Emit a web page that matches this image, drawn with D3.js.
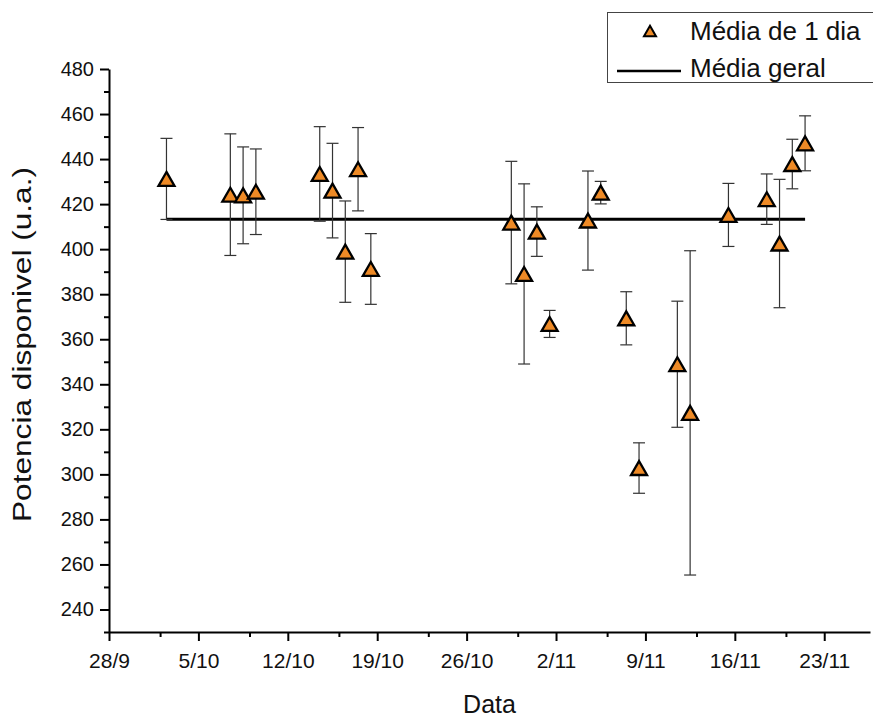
<!DOCTYPE html>
<html>
<head>
<meta charset="utf-8">
<script src="https://cdn.jsdelivr.net/npm/d3@7"></script>
<style>
  body { margin: 0; background: #fff; }
  text { font-family: "Liberation Sans", Arial, sans-serif; fill: #111; }
</style>
</head>
<body>
<svg id="chart" width="873" height="718"></svg>
<script>
// daily means (one point per day, drawn at noon)
const days = ["2/10", "7/10", "8/10", "9/10", "14/10", "15/10", "16/10", "17/10", "18/10",
  "29/10", "30/10", "31/10", "1/11", "4/11", "5/11", "7/11", "8/11", "11/11", "12/11",
  "15/11", "18/11", "19/11", "20/11", "21/11"];
const means = [431.2, 424.2, 423.9, 425.5, 433.4, 426.0, 398.9, 435.5, 391.2,
  411.8, 389.0, 407.8, 366.8, 412.7, 425.1, 369.3, 302.8, 348.9, 327.3,
  415.2, 422.2, 402.5, 437.8, 447.0];
const errors = [18, 27, 21.5, 19, 21, 21, 22.5, 18.5, 15.7,
  27.2, 40, 11, 6, 22, 5, 11.8, 11.2, 28, 72,
  14, 11.2, 28.5, 11, 12.2];
const generalMean = 413.3;

const xTickLabels = ["28/9", "5/10", "12/10", "19/10", "26/10", "2/11", "9/11", "16/11", "23/11"];
const yTicks = [240, 260, 280, 300, 320, 340, 360, 380, 400, 420, 440, 460, 480];

const year = 2009;
const parseDay = d3.utcParse("%d/%m/%Y");
const toDate = (s) => parseDay(s + "/" + year);
const noon = (s) => d3.utcHour.offset(toDate(s), 12);

let data = days.map((d, i) => {
  return { date: noon(d), mean: means[i], err: errors[i] };
});

let pLeft = 109, pTop = 69, pRight = 870, pBottom = 632;

let svg = d3.select('#chart');

let x = d3.scaleUtc()
  .domain([toDate("28/9"), d3.utcHour.offset(toDate("26/11"), 14)])
  .range([pLeft, pRight]);

let y = d3.scaleLinear()
  .domain([230, 480])
  .range([pBottom, pTop]);

// x axis: major weekly ticks + minor ticks 4 days after each
let xMajor = xTickLabels.map(toDate);
let xMinor = xMajor.map((d) => d3.utcDay.offset(d, 4)).filter((d) => x(d) <= pRight);

let gx = svg.append('g')
  .attr('transform', `translate(0, ${pBottom})`)
  .call(d3.axisBottom(x).tickValues(xMajor).tickFormat(d3.utcFormat("%-d/%-m"))
    .tickSize(9).tickPadding(12).tickSizeOuter(0));
gx.select('.domain').attr('stroke-width', 2);
gx.selectAll('.tick line').attr('stroke-width', 2);
gx.selectAll('.tick text').style('font-size', '21px');

svg.append('g')
  .attr('transform', `translate(0, ${pBottom})`)
  .call(d3.axisBottom(x).tickValues(xMinor).tickSize(5).tickFormat('').tickSizeOuter(0))
  .call((g) => g.select('.domain').remove())
  .selectAll('.tick line').attr('stroke-width', 2);

// y axis
let gy = svg.append('g')
  .attr('transform', `translate(${pLeft}, 0)`)
  .call(d3.axisLeft(y).tickValues(yTicks).tickSize(9).tickPadding(6).tickSizeOuter(0));
gy.select('.domain').attr('stroke-width', 2);
gy.selectAll('.tick line').attr('stroke-width', 2);
gy.selectAll('.tick text').style('font-size', '20px');

svg.append('g')
  .attr('transform', `translate(${pLeft}, 0)`)
  .call(d3.axisLeft(y).tickValues(d3.range(230, 480, 20)).tickSize(5).tickFormat('').tickSizeOuter(0))
  .call((g) => g.select('.domain').remove())
  .selectAll('.tick line').attr('stroke-width', 2);

// axis titles
svg.append('text')
  .attr('x', (pLeft + pRight) / 2)
  .attr('y', 713)
  .attr('text-anchor', 'middle')
  .style('font-size', '25px')
  .text('Data');

svg.append('text')
  .attr('transform', `translate(31, ${(pTop + pBottom) / 2 - 6}) rotate(-90)`)
  .attr('text-anchor', 'middle')
  .style('font-size', '25px')
  .attr('textLength', 355)
  .attr('lengthAdjust', 'spacingAndGlyphs')
  .text('Potencia disponivel (u.a.)');

// general mean line
let firstDate = data[0].date, lastDate = data[data.length - 1].date;
svg.append('line')
  .attr('x1', x(firstDate))
  .attr('x2', x(lastDate))
  .attr('y1', y(generalMean))
  .attr('y2', y(generalMean))
  .attr('stroke', '#000')
  .attr('stroke-width', 3);

// error bars
let capW = 6;
let bars = svg.append('g')
  .attr('stroke', '#333')
  .attr('stroke-width', 1.2)
  .selectAll('g')
  .data(data)
  .enter()
  .append('g');

bars.append('line')
  .attr('x1', (d) => x(d.date))
  .attr('x2', (d) => x(d.date))
  .attr('y1', (d) => y(d.mean + d.err))
  .attr('y2', (d) => y(d.mean - d.err));
bars.append('line')
  .attr('x1', (d) => x(d.date) - capW)
  .attr('x2', (d) => x(d.date) + capW)
  .attr('y1', (d) => y(d.mean + d.err))
  .attr('y2', (d) => y(d.mean + d.err));
bars.append('line')
  .attr('x1', (d) => x(d.date) - capW)
  .attr('x2', (d) => x(d.date) + capW)
  .attr('y1', (d) => y(d.mean - d.err))
  .attr('y2', (d) => y(d.mean - d.err));

// up triangle centred on its bounding box (like Origin)
let triangle = {
  draw: (context, size) => {
    let w = Math.sqrt(size), h = w * 0.87;
    context.moveTo(0, -h / 2);
    context.lineTo(w / 2, h / 2);
    context.lineTo(-w / 2, h / 2);
    context.closePath();
  }
};

svg.append('g')
  .selectAll('path')
  .data(data)
  .enter()
  .append('path')
  .attr('transform', (d) => `translate(${x(d.date)}, ${y(d.mean)})`)
  .attr('d', d3.symbol(triangle, 16 * 16))
  .attr('fill', '#ee8a26')
  .attr('stroke', '#000')
  .attr('stroke-width', 2.3)
  .attr('stroke-linejoin', 'miter');

// legend
let legend = svg.append('g');
legend.append('rect')
  .attr('x', 607.5)
  .attr('y', 12.5)
  .attr('width', 300)
  .attr('height', 70)
  .attr('fill', '#fff')
  .attr('stroke', '#444')
  .attr('stroke-width', 1);
legend.append('path')
  .attr('transform', 'translate(650, 31)')
  .attr('d', d3.symbol(triangle, 12 * 12))
  .attr('fill', '#ee8a26')
  .attr('stroke', '#000')
  .attr('stroke-width', 2);
legend.append('text')
  .attr('x', 690)
  .attr('y', 40)
  .style('font-size', '26px')
  .text('Média de 1 dia');
legend.append('line')
  .attr('x1', 617)
  .attr('x2', 681)
  .attr('y1', 71)
  .attr('y2', 71)
  .attr('stroke', '#000')
  .attr('stroke-width', 2.5);
legend.append('text')
  .attr('x', 690)
  .attr('y', 77)
  .style('font-size', '26px')
  .text('Média geral');
</script>
</body>
</html>
